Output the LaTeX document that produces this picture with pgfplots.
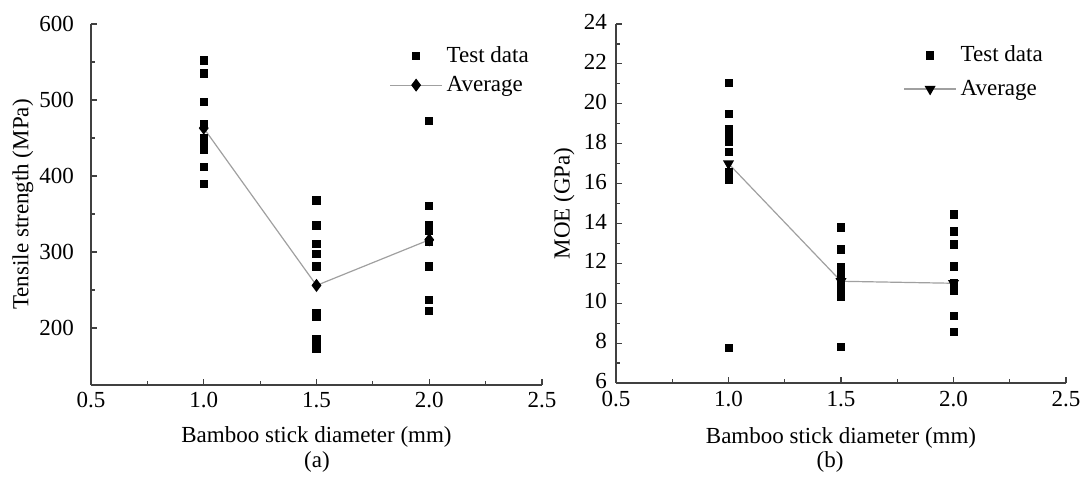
\documentclass[border=0pt]{standalone}
\usepackage{pgfplots}
\pgfplotsset{compat=1.18}
\usepackage{fontspec}
\setmainfont{Liberation Serif}
\definecolor{axgray}{HTML}{404040}
\definecolor{avgline}{HTML}{A0A0A0}
\pgfplotsset{
  myaxis/.style={
    scale only axis,
    width=225.5pt, height=180.5pt,
    anchor=south west,
    axis x line*=bottom, axis y line*=left,
    axis line style={axgray, line width=0.7pt, -},
    every tick/.style={axgray, line width=0.6pt},
    tick align=inside,
    major tick length=3pt, minor tick length=2pt,
    minor x tick num=1, minor y tick num=1,
    xmin=0.5, xmax=2.5,
    xtick={0.5,1.0,1.5,2.0,2.5},
    /pgf/number format/assume math mode=true,
    xticklabel style={/pgf/number format/fixed, /pgf/number format/fixed zerofill, /pgf/number format/precision=1},
    tick label style={font=\fontsize{11.5}{13}\selectfont, black},
    label style={font=\fontsize{11.5}{13}\selectfont, black},
    xlabel={Bamboo stick diameter (mm)},
    legend style={draw=none, fill=none, font=\fontsize{11.5}{13}\selectfont,
      row sep=1.5pt, anchor=north west, inner sep=0pt},
    legend cell align=left,
    legend image code/.code={\draw[mark repeat=2,mark phase=2,#1] plot coordinates {(0pt,0pt) (13pt,0pt) (26pt,0pt)};},
  },
  testdata/.style={only marks, mark=square*, mark size=1.8pt, black},
}
\begin{document}
\begin{tikzpicture}
\useasboundingbox (0,0) rectangle (541pt,240pt);
% (a)
\begin{axis}[myaxis, at={(45.5pt,47.5pt)},
  ymin=125, ymax=600, ytick={200,300,400,500,600},
  yticklabel style={xshift=-5pt},
  ylabel={Tensile strength (MPa)},
  ylabel style={at={(axis description cs:-0.151,0.5)}, anchor=center},
  xlabel style={at={(axis description cs:0.5,-0.144)}, anchor=center},
  legend style={at={(axis description cs:0.661,0.951)}},
]
\addplot[testdata] coordinates {
 (1.0,552) (1.0,535) (1.0,498) (1.0,468) (1.0,450) (1.0,442) (1.0,435) (1.0,412) (1.0,390)
 (1.5,368) (1.5,335) (1.5,311) (1.5,297) (1.5,281) (1.5,220) (1.5,215) (1.5,185) (1.5,178) (1.5,173)
 (2.0,472) (2.0,361) (2.0,335) (2.0,328) (2.0,313) (2.0,281) (2.0,237) (2.0,223)
};
\addlegendentry{Test data}
\addplot[avgline, line width=0.6pt, mark=diamond*, mark size=2.8pt,
  mark options={black, fill=black}] coordinates {
 (1.0,463) (1.5,256) (2.0,316)
};
\addlegendentry{Average}
\end{axis}
% (b)
\begin{axis}[myaxis, at={(308pt,48.5pt)}, width=225pt, height=179.5pt,
  ymin=6, ymax=24, ytick={6,8,...,24},
  yticklabel style={xshift=-1pt, yshift=1pt},
  xticklabel style={yshift=-0.5pt},
  ylabel={MOE (GPa)},
  ylabel style={at={(axis description cs:-0.1156,0.5)}, anchor=center},
  xlabel style={at={(axis description cs:0.5,-0.153)}, anchor=center},
  legend style={at={(axis description cs:0.638,0.951)}, row sep=3.5pt},
]
\addplot[testdata] coordinates {
 (1.0,21.05) (1.0,19.5) (1.0,18.75) (1.0,18.45) (1.0,18.1) (1.0,17.6) (1.0,16.6) (1.0,16.2) (1.0,7.75)
 (1.5,13.8) (1.5,12.7) (1.5,11.8) (1.5,11.5) (1.5,11.3) (1.5,11.0) (1.5,10.6) (1.5,10.3) (1.5,7.8)
 (2.0,14.45) (2.0,13.6) (2.0,12.95) (2.0,11.85) (2.0,11.0) (2.0,10.8) (2.0,10.6) (2.0,9.35) (2.0,8.55)
};
\addlegendentry{Test data}
\addplot[avgline, line width=0.6pt, mark=triangle*, mark size=2.6pt,
  mark options={black, fill=black, rotate=180}] coordinates {
 (1.0,17.0) (1.5,11.1) (2.0,11.0)
};
\addlegendentry{Average}
\end{axis}
\node[font=\fontsize{11.5}{13}\selectfont] at (158.5pt,9pt) {(a)};
\node[font=\fontsize{11.5}{13}\selectfont] at (415pt,9pt) {(b)};
\end{tikzpicture}
\end{document}
